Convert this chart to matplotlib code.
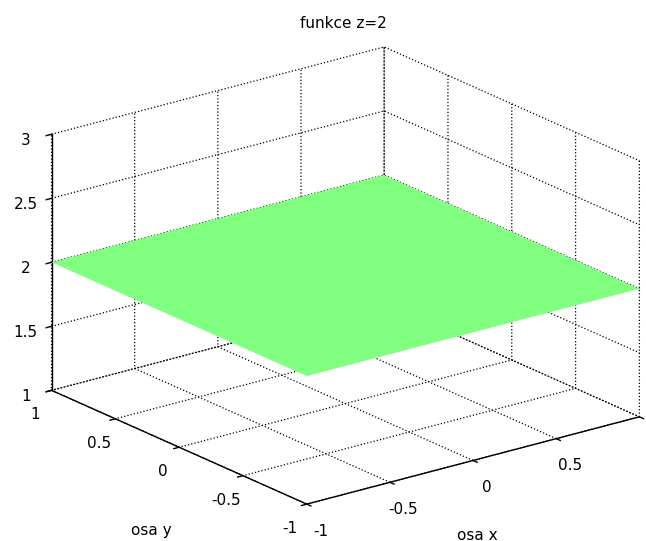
import numpy as np
import matplotlib
matplotlib.use("Agg")
import matplotlib.pyplot as plt

x_vals = [-1, 1]
y_vals = [-1, 1]
z_level = 2
ticks_xy = [-1, -0.5, 0, 0.5, 1]
ticks_z = [1, 1.5, 2, 2.5, 3]
xtick_labels = ['-1', '-0.5', '0', '0.5', '']
ytick_labels = ['-1', '-0.5', '0', '0.5', '1']
ztick_labels = ['1', '1.5', '2', '2.5', '3']

plt.rcParams['font.family'] = ['DejaVu Sans']
plt.rcParams['grid.linestyle'] = ':'
plt.rcParams['grid.color'] = 'black'
plt.rcParams['grid.linewidth'] = 0.9

W, H = 646, 541
fig = plt.figure(figsize=(W / 100, H / 100), dpi=100)
# square 3d axes, larger than the figure so nothing gets clipped
side = 700
cx, cy = 336, 285
ax = fig.add_axes([(cx - side / 2) / W, 1 - (cy + side / 2) / H, side / W, side / H],
                  projection='3d')
ax.set_proj_type('ortho')
ax.view_init(elev=20, azim=-127.5)
ax.set_box_aspect((1, 1, 0.65), zoom=0.905)

X, Y = np.meshgrid(x_vals, y_vals)
Z = np.full(X.shape, z_level, dtype=float)
ax.plot_surface(X, Y, Z, color='#80ff80', edgecolor='none', shade=False, linewidth=0)

ax.set_xlim(-1, 1)
ax.set_ylim(-1, 1)
ax.set_zlim(1, 3)
ax.set_xticks(ticks_xy)
ax.set_yticks(ticks_xy)
ax.set_zticks(ticks_z)
ax.set_xticklabels(xtick_labels)
ax.set_yticklabels(ytick_labels)
ax.set_zticklabels(ztick_labels)

for axis in (ax.xaxis, ax.yaxis, ax.zaxis):
    axis.set_pane_color((1, 1, 1, 1))
    axis.pane.set_edgecolor('white')
    axis.line.set_color('black')
    axis.line.set_linewidth(1.0)
    axis._axinfo['tick']['inward_factor'] = 0.2
    axis._axinfo['tick']['outward_factor'] = 0.0
    axis._axinfo['tick']['linewidth'] = {True: 1.0, False: 0.8}
    axis.set_tick_params(labelsize=11, colors='black')
ax.yaxis.set_tick_params(pad=5)
ax.xaxis.set_tick_params(pad=6)

fig.text(0.531, 0.956, 'funkce z=2', ha='center', va='center', fontsize=11)
fig.text(477 / W, 1 - 535 / H, 'osa x', ha='center', va='center', fontsize=11)
fig.text(151 / W, 1 - 530 / H, 'osa y', ha='center', va='center', fontsize=11)

fig.savefig('out.png', dpi=100)
